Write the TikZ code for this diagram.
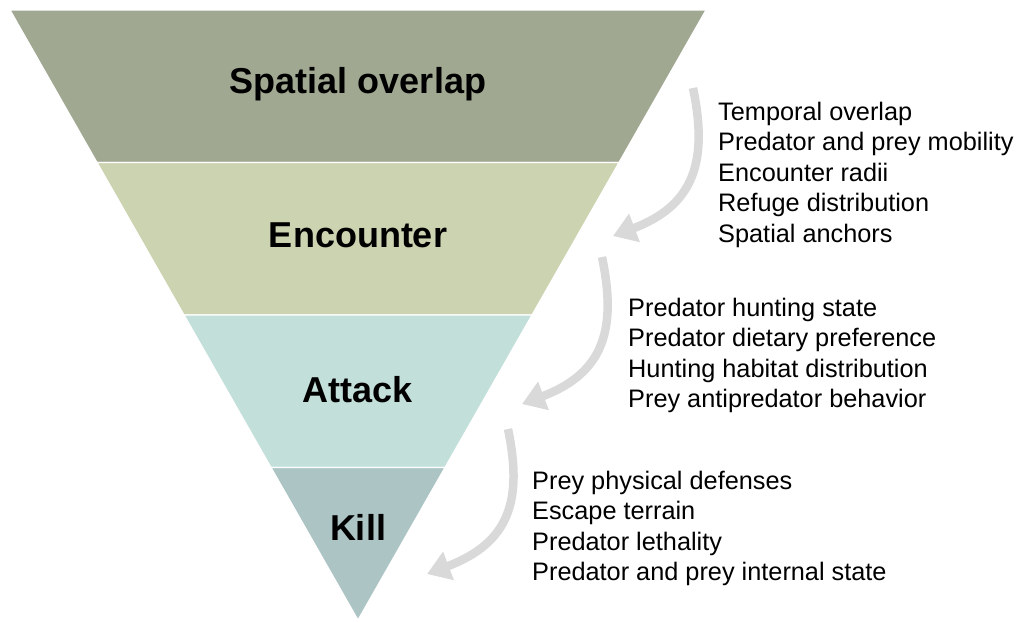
\documentclass[tikz,border=0pt]{standalone}
\usepackage{fontspec}
\setmainfont{Liberation Sans}
\usetikzlibrary{calc,arrows.meta}

\definecolor{overlapc}{RGB}{160,168,145}
\definecolor{encounterc}{RGB}{204,211,176}
\definecolor{attackc}{RGB}{195,223,218}
\definecolor{killc}{RGB}{172,196,196}
\definecolor{flowc}{RGB}{217,217,217}

\begin{document}
\begin{tikzpicture}[x=1pt, y=-1pt,
every node/.style={%anchor=base,
    inner sep=0pt
    },
band/.style={draw=white, line width=1.2pt},
stage/.style={font=\fontsize{36}{42}\selectfont\bfseries, anchor=base},
factor/.style={font=\fontsize{25.3}{30}\selectfont, anchor=base west},
flow/.style={draw=flowc, line width=8.5pt, -{Triangle[width=29pt,length=23pt]}}
]
\useasboundingbox (0,0) rectangle (1017,622);

\coordinate (tl) at (10,10);
\coordinate (tr) at (706,10);
\coordinate (ap) at (358,620);

\foreach \a/\b/\c in {0/0.25/overlapc, 0.25/0.5/encounterc,%
                      0.5/0.75/attackc, 0.75/1/killc}
    \filldraw [band, fill=\c] ($(tl)!\a!(ap)$) -- ($(tr)!\a!(ap)$)
        -- ($(tr)!\b!(ap)$) -- ($(tl)!\b!(ap)$) -- cycle;

\node [stage] (overlap)   at (358,93)  {Spatial overlap};
\node [stage] (encounter) at (358,247) {Encounter};
\node [stage] (attack)    at (358,402) {Attack};
\node [stage] (kill)      at (358,540) {Kill};

\foreach \t [count=\i] in {Temporal overlap, Predator and prey mobility,%
                           Encounter radii, Refuge distribution, Spatial anchors}
    \node [factor] (f1-\i) at (718,{89.5+30.5*\i}) {\t};
\foreach \t [count=\i] in {Predator hunting state, Predator dietary preference,%
                           Hunting habitat distribution, Prey antipredator behavior}
    \node [factor] (f2-\i) at (628,{285.5+30.5*\i}) {\t};
\foreach \t [count=\i] in {Prey physical defenses, Escape terrain,%
                           Predator lethality, Predator and prey internal state}
    \node [factor] (f3-\i) at (532,{458.5+30.5*\i}) {\t};

\coordinate (s1) at (693,88);  \coordinate (e1) at (613,236);
\coordinate (s2) at (602,257); \coordinate (e2) at (522,404);
\coordinate (s3) at (508,429); \coordinate (e3) at (427,574);

\foreach \i in {1,2,3}
    \draw [flow] (s\i) .. controls +(15,72) and +(82,-31) .. (e\i);

\end{tikzpicture}
\end{document}
